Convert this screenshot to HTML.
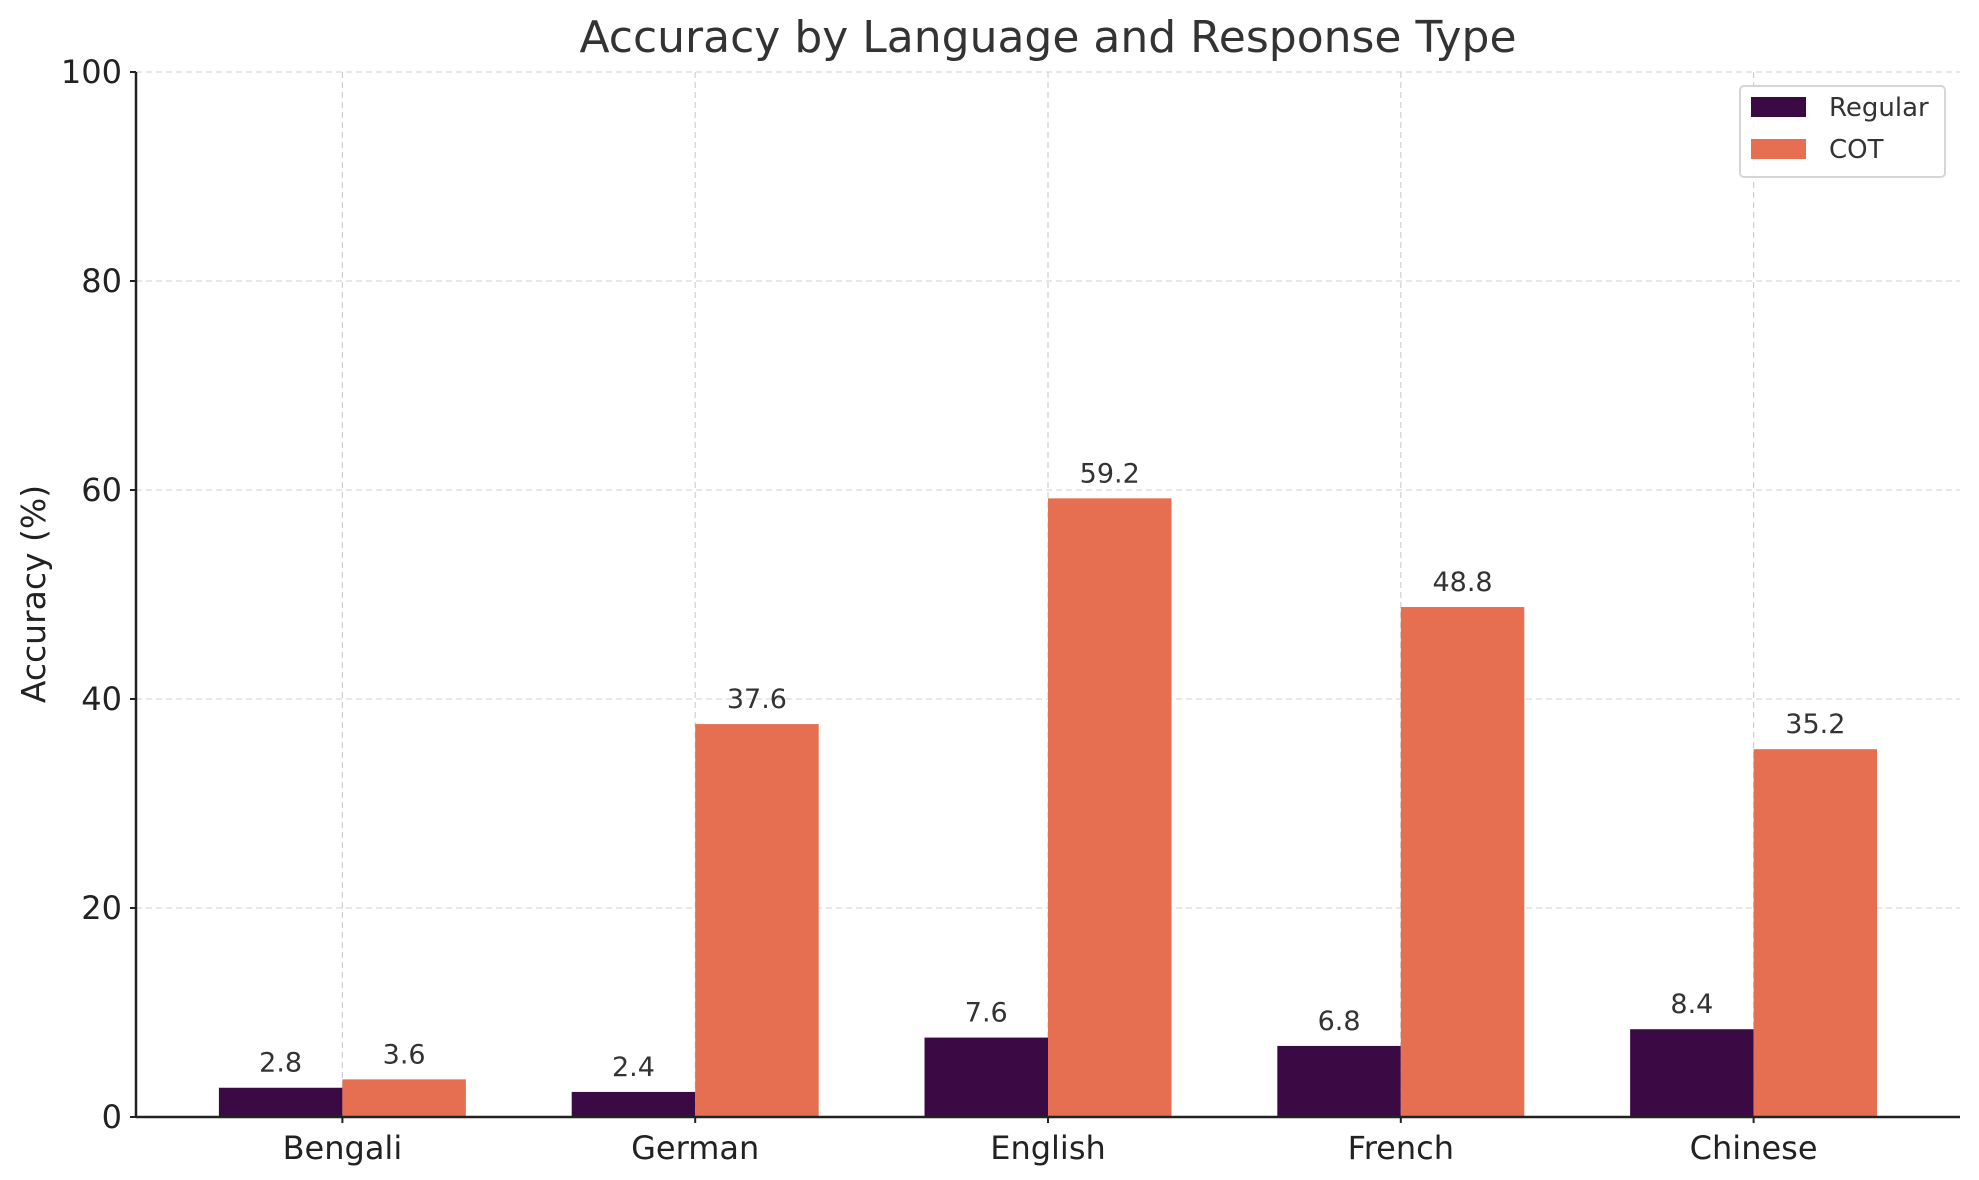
<!DOCTYPE html>
<html><head><meta charset="utf-8"><style>
body{margin:0;background:#fff;}
svg{display:block;font-family:"DejaVu Sans","Liberation Sans",sans-serif;}
</style></head><body>
<svg id="chart" width="1979" height="1180" viewBox="0 0 1979 1180">
<text x="1048" y="52" font-size="44" fill="#333" text-anchor="middle">Accuracy by Language and Response Type</text>
<text transform="translate(45,594) rotate(-90)" font-size="33" fill="#222" text-anchor="middle">Accuracy (%)</text>
<g id="grid"></g><g id="bars"></g><g id="axes"></g>
<g>
<rect x="1740" y="86" width="205" height="91" rx="4" fill="#fff" fill-opacity="0.85" stroke="#d6d6d6" stroke-width="2"/>
<rect x="1751" y="97" width="55" height="20" fill="#3b0a45"/>
<text x="1829" y="116" font-size="26" fill="#333">Regular</text>
<rect x="1751" y="139" width="55" height="20" fill="#e76f51"/>
<text x="1829" y="158" font-size="26" fill="#333">COT</text>
</g>
</svg>
<script>
const categories=["Bengali","German","English","French","Chinese"];
const regular=[2.8,2.4,7.6,6.8,8.4];
const cot=[3.6,37.6,59.2,48.8,35.2];
const yTicks=[0,20,40,60,80,100];
const NS="http://www.w3.org/2000/svg";
const L=136,R=1960,T=72,B=1117;
const xmin=-0.585,xmax=4.585;
function xs(v){return L+(v-xmin)/(xmax-xmin)*(R-L);}
function ys(v){return B-v/100*(B-T);}
function mk(tag,attrs,parent){const e=document.createElementNS(NS,tag);for(const k in attrs)e.setAttribute(k,attrs[k]);document.getElementById(parent).appendChild(e);return e;}
const bw=(xs(0.35)-xs(0));
yTicks.forEach(t=>{
 const g=mk('line',{x1:L,x2:R,y1:ys(t),y2:ys(t),stroke:'#d9d9d9','stroke-dasharray':'6,4','stroke-width':1.2},'grid');
 
 
 const tk=mk('line',{x1:L-6,x2:L,y1:ys(t),y2:ys(t),stroke:'#222','stroke-width':2},'axes');
 
 
 const tl=mk('text',{x:L-14,y:ys(t)+11,'font-size':32,fill:'#222','text-anchor':'end'},'axes');
 tl.textContent=t;
 
 
});
categories.forEach((c,i)=>{
 const cx=xs(i);
 const gl=mk('line',{x1:cx,x2:cx,y1:T,y2:B,stroke:'#d0d0d0','stroke-dasharray':'6,4','stroke-width':1.2},'grid');
 
 
 [[regular,'#3b0a45',-1,'regular'],[cot,'#e76f51',0,'cot']].forEach(([arr,col,off,nm])=>{
  const x=cx+off*bw;
  const r=mk('rect',{x:x,y:ys(arr[i]),width:bw,height:B-ys(arr[i]),fill:col},'bars');
  
  
  const lt=mk('text',{x:x+bw/2,y:ys(arr[i])-16,'font-size':27,fill:'#333','text-anchor':'middle'},'bars');
  lt.textContent=arr[i].toFixed(1);
  
  
 });
 const tk=mk('line',{x1:cx,x2:cx,y1:B,y2:B+6,stroke:'#222','stroke-width':2},'axes');
 
 
 const tl=mk('text',{x:cx,y:B+42,'font-size':32,fill:'#222','text-anchor':'middle'},'axes');
 tl.textContent=c;
 
 
});
const ya=mk('line',{x1:L,x2:L,y1:T,y2:B,stroke:'#222','stroke-width':2.5},'axes');


const xa=mk('line',{x1:L,x2:R,y1:B,y2:B,stroke:'#222','stroke-width':2.5},'axes');


</script>
</body></html>
